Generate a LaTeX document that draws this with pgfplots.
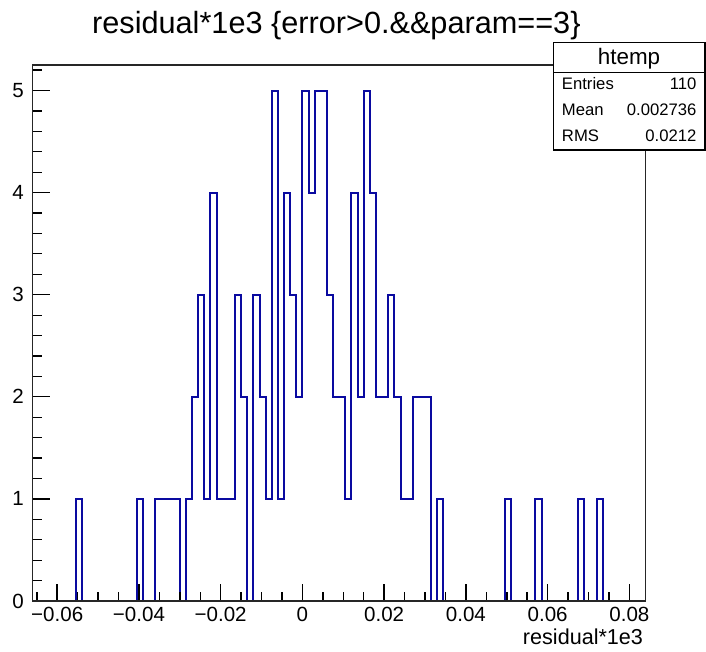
\documentclass[border=0pt]{standalone}
\usepackage{pgfplots}
\pgfplotsset{compat=1.18}
\usepackage{fontspec}
\setmainfont{Liberation Sans}
\definecolor{rootblue}{RGB}{10,10,160}
\begin{document}
\begin{tikzpicture}
\path[use as bounding box] (0,0) rectangle (529.5pt,489pt);
\begin{axis}[
  at={(24.525pt,38.25pt)}, anchor=south west,
  scale only axis, width=459.75pt, height=402pt,
  xmin=-0.066, xmax=0.084, ymin=0, ymax=5.25,
  scaled x ticks=false, scaled y ticks=false,
  xtick={-0.06,-0.04,-0.02,0,0.02,0.04,0.06,0.08},
  xticklabels={−0.06,−0.04,−0.02,0,0.02,0.04,0.06,0.08},
  ytick={0,1,2,3,4,5},
  yticklabels={0,1,2,3,4,5},
  minor xtick={-0.065,-0.055,-0.05,-0.045,-0.035,-0.03,-0.025,-0.015,-0.01,-0.005,0.005,0.01,0.015,0.025,0.03,0.035,0.045,0.05,0.055,0.065,0.07,0.075},
  minor ytick={0.2,0.4,0.6,0.8,1.2,1.4,1.6,1.8,2.2,2.4,2.6,2.8,3.2,3.4,3.6,3.8,4.2,4.4,4.6,4.8,5.2},
  tick align=inside,
  xtick pos=lower, ytick pos=lower,
  major tick length=13pt, minor tick length=6.75pt,
  major x tick style={draw=black, line width=1.1pt},
  minor x tick style={draw=black, line width=1.1pt},
  ytick style={draw=black, line width=0.9pt},
  axis line style={line width=1pt, black!85},
  axis on top,
  xticklabel style={font=\fontsize{15.4}{16}\selectfont, anchor=base, inner sep=0pt, yshift=-15.5pt},
  yticklabel style={font=\fontsize{15.4}{16}\selectfont, anchor=east, inner sep=0pt, xshift=-6.5pt},
]
\addplot[const plot, color=rootblue, line width=1.5pt] table[row sep=\\] {
x y\\
-0.0660 0\\ -0.0645 0\\ -0.0630 0\\ -0.0615 0\\ -0.0600 0\\ -0.0585 0\\ -0.0570 0\\ -0.0555 1\\ -0.0540 0\\ -0.0525 0\\
-0.0510 0\\ -0.0495 0\\ -0.0480 0\\ -0.0465 0\\ -0.0450 0\\ -0.0435 0\\ -0.0420 0\\ -0.0405 1\\ -0.0390 0\\ -0.0375 0\\
-0.0360 1\\ -0.0345 1\\ -0.0330 1\\ -0.0315 1\\ -0.0300 0\\ -0.0285 1\\ -0.0270 2\\ -0.0255 3\\ -0.0240 1\\ -0.0225 4\\
-0.0210 1\\ -0.0195 1\\ -0.0180 1\\ -0.0165 3\\ -0.0150 2\\ -0.0135 0\\ -0.0120 3\\ -0.0105 2\\ -0.0090 1\\ -0.0075 5\\
-0.0060 1\\ -0.0045 4\\ -0.0030 3\\ -0.0015 2\\ 0.0000 5\\ 0.0015 4\\ 0.0030 5\\ 0.0045 5\\ 0.0060 3\\ 0.0075 2\\
0.0090 2\\ 0.0105 1\\ 0.0120 4\\ 0.0135 2\\ 0.0150 5\\ 0.0165 4\\ 0.0180 2\\ 0.0195 2\\ 0.0210 3\\ 0.0225 2\\
0.0240 1\\ 0.0255 1\\ 0.0270 2\\ 0.0285 2\\ 0.0300 2\\ 0.0315 0\\ 0.0330 1\\ 0.0345 0\\ 0.0360 0\\ 0.0375 0\\
0.0390 0\\ 0.0405 0\\ 0.0420 0\\ 0.0435 0\\ 0.0450 0\\ 0.0465 0\\ 0.0480 0\\ 0.0495 1\\ 0.0510 0\\ 0.0525 0\\
0.0540 0\\ 0.0555 0\\ 0.0570 1\\ 0.0585 0\\ 0.0600 0\\ 0.0615 0\\ 0.0630 0\\ 0.0645 0\\ 0.0660 0\\ 0.0675 1\\
0.0690 0\\ 0.0705 0\\ 0.0720 1\\ 0.0735 0\\ 0.0750 0\\ 0.0765 0\\ 0.0780 0\\ 0.0795 0\\ 0.0810 0\\ 0.0825 0\\
0.0840 0\\
};
\end{axis}
\begin{scope}[x=0.75pt, y=-0.75pt, shift={(0pt,489pt)}]
  \node[anchor=base, inner sep=0pt, font=\fontsize{23}{26}\selectfont] at (336.4,33.3) {residual*1e3 \{error>0.\&\&param==3\}};
  \node[anchor=base east, inner sep=0pt, font=\fontsize{16.2}{18}\selectfont] at (643.3,645) {residual*1e3};
  \draw[fill=white, line width=0.8pt] (553.3,42.7) rectangle (705,150);
  \draw[line width=0.8pt] (553.3,72.7) -- (705,72.7);
  \node[anchor=base, inner sep=0pt, font=\fontsize{16.8}{18}\selectfont] at (629,65) {htemp};
  \begin{scope}[every node/.style={inner sep=0pt, font=\fontsize{12.5}{14}\selectfont}]
    \node[anchor=base west] at (561.7,90) {Entries};
    \node[anchor=base east] at (696.7,90) {110};
    \node[anchor=base west] at (561.7,115.5) {Mean};
    \node[anchor=base east] at (696.7,115.5) {0.002736};
    \node[anchor=base west] at (561.7,141.5) {RMS};
    \node[anchor=base east] at (696.7,141.5) {0.0212};
  \end{scope}
\end{scope}
\end{tikzpicture}
\end{document}
